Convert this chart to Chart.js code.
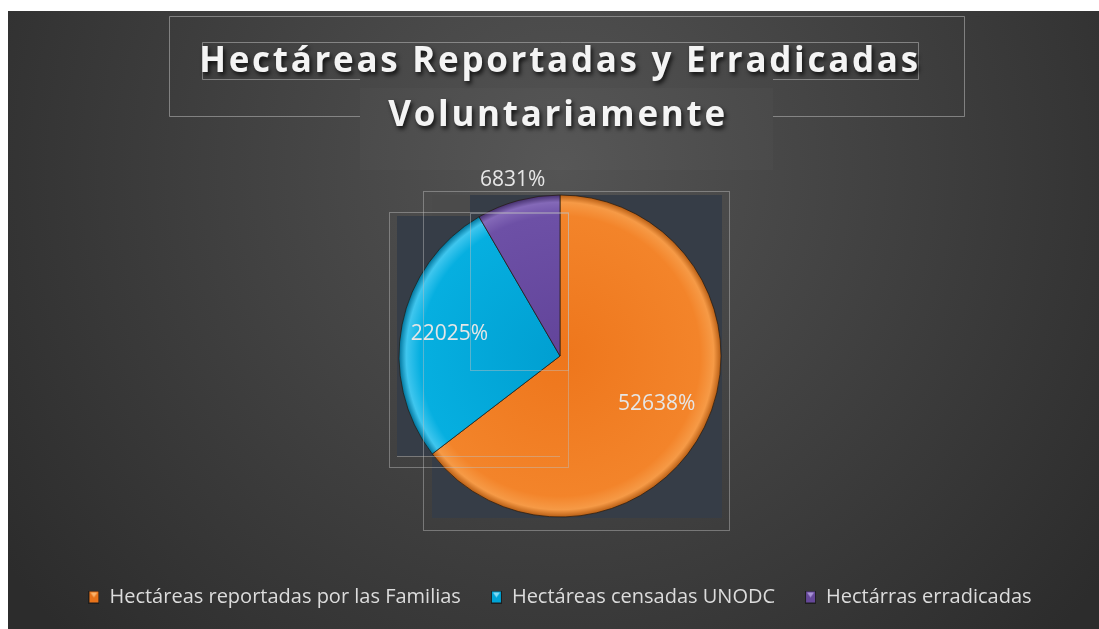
<!DOCTYPE html>
<html>
<head>
<meta charset="utf-8">
<script src="https://cdn.jsdelivr.net/npm/chart.js@4"></script>
<style>
  html, body { margin: 0; padding: 0; background: #fff; overflow: hidden; }
  #wrap { width: 1099px; height: 629px; overflow: hidden; }
</style>
</head>
<body>
<div id="wrap"><canvas id="pie-chart" width="1099" height="629"></canvas></div>
<script>
// data
var categories = ["Hectáreas reportadas por las Familias", "Hectáreas censadas UNODC", "Hectárras erradicadas"];
var hectareas = [52638, 22025, 6831];
var titleLines = ["Hectáreas Reportadas y Erradicadas", "Voluntariamente"];

var baseColors = ["#f17a20", "#00a6d8", "#674a9c"];
// gradient stops per slice: centre, body, bevel, rim
var shades = [
    ["#ee761c", "#f3842a", "#f69a46", "#b85e14"],
    ["#009fd1", "#06afe0", "#3fc6ee", "#00749c"],
    ["#62449a", "#6d50a6", "#8469b8", "#45306e"]
];
var labelDist = [0.67, 0.7, 1.13];
var RADIUS = 161;

function sliceFill(ctx) {
    var chart = ctx.chart;
    var a = chart.chartArea;
    var i = ctx.dataIndex;
    if (!a || i === undefined) return baseColors[i || 0];
    var cx = (a.left + a.right) / 2, cy = (a.top + a.bottom) / 2;
    var g = chart.ctx.createRadialGradient(cx, cy, 0, cx, cy, RADIUS);
    g.addColorStop(0, shades[i][0]);
    g.addColorStop(0.87, shades[i][1]);
    g.addColorStop(0.955, shades[i][2]);
    g.addColorStop(1, shades[i][3]);
    return g;
}

// small legend marker with the little triangle
function marker(color, light) {
    var c = document.createElement("canvas");
    c.width = 11; c.height = 13;
    var x = c.getContext("2d");
    x.fillStyle = "#1e1e1e";
    x.fillRect(0, 0, 11, 13);
    x.fillStyle = color;
    x.fillRect(1, 1, 9, 11);
    x.fillStyle = light;
    x.beginPath();
    x.moveTo(2, 2); x.lineTo(9, 2); x.lineTo(5.5, 7);
    x.closePath();
    x.fill();
    return c;
}
var markers = [marker("#e8731a", "#fbb36a"), marker("#00a4d6", "#7fdaf5"), marker("#66489a", "#a892d6")];

var decor = {
    id: "decor",
    beforeDraw: function(chart) {
        var c = chart.ctx;
        c.save();
        c.fillStyle = "#ffffff";
        c.fillRect(0, 0, chart.width, chart.height);
        var g = c.createRadialGradient(560, 170, 0, 560, 170, 680);
        g.addColorStop(0, "#545454");
        g.addColorStop(1, "#2c2c2c");
        c.fillStyle = g;
        c.fillRect(8, 11, 1091, 625);
        // lighter box behind second title line
        c.fillStyle = "rgba(255,255,255,0.02)";
        c.fillRect(360, 88, 413, 82);
        // title frames
        c.strokeStyle = "rgba(175,175,175,0.6)";
        c.lineWidth = 1;
        c.beginPath();
        c.moveTo(169.5, 116.5); c.lineTo(169.5, 16.5); c.lineTo(964.5, 16.5); c.lineTo(964.5, 116.5); c.lineTo(773, 116.5);
        c.moveTo(360, 116.5); c.lineTo(169.5, 116.5);
        c.moveTo(202.5, 79.5); c.lineTo(202.5, 42.5); c.lineTo(918.5, 42.5); c.lineTo(918.5, 79.5); c.lineTo(773, 79.5);
        c.moveTo(360, 79.5); c.lineTo(202.5, 79.5);
        c.stroke();
        c.restore();
    },
    beforeDatasetsDraw: function(chart) {
        var c = chart.ctx;
        c.save();
        c.fillStyle = "#363d47";
        c.fillRect(432, 195, 290, 323);
        c.fillRect(397, 216, 163, 240);
        c.fillStyle = "#4b4b4b";
        c.fillRect(432, 195, 38, 21);
        c.restore();
    },
    afterDatasetsDraw: function(chart) {
        var c = chart.ctx;
        c.save();
        c.strokeStyle = "rgba(190,190,190,0.45)";
        c.lineWidth = 1;
        c.strokeRect(423.5, 191.5, 306, 339);
        c.strokeRect(389.5, 212.5, 179, 255);
        c.strokeRect(470.5, 213.5, 98, 157);
        c.beginPath();
        c.moveTo(397, 456.5); c.lineTo(560, 456.5);
        c.stroke();
        c.restore();

        // value labels
        var meta = chart.getDatasetMeta(0);
        c.save();
        c.font = "21px 'Open Sans'";
        c.fillStyle = "#e6e6e6";
        c.textAlign = "center";
        c.textBaseline = "middle";
        meta.data.forEach(function(arc, i) {
            var mid = (arc.startAngle + arc.endAngle) / 2;
            var r = arc.outerRadius * labelDist[i];
            c.fillText(hectareas[i] + "%", arc.x + Math.cos(mid) * r, arc.y + Math.sin(mid) * r);
        });
        c.restore();

        // title
        c.save();
        c.font = "bold 35px 'Open Sans'";
        c.letterSpacing = "2.7px";
        c.fillStyle = "#f4f4f4";
        c.textAlign = "center";
        c.textBaseline = "alphabetic";
        c.shadowColor = "rgba(0,0,0,0.75)";
        c.shadowOffsetX = 2;
        c.shadowOffsetY = 3;
        c.shadowBlur = 4;
        c.fillText(titleLines[0], 560, 72);
        c.fillText(titleLines[1], 558, 126);
        c.restore();
    }
};

var ctx1 = document.getElementById("pie-chart");
var chart1 = new Chart(ctx1, {
    type: "pie",
    data: {
        labels: categories,
        datasets: [{
            data: hectareas,
            backgroundColor: sliceFill,
            borderColor: "rgba(35,25,15,0.7)",
            borderWidth: 1,
            radius: RADIUS
        }]
    },
    options: {
        responsive: false,
        animation: false,
        layout: { padding: { left: 29, right: 8, top: 155, bottom: 12 } },
        plugins: {
            title: { display: false },
            tooltip: { enabled: false },
            legend: {
                display: true,
                position: "bottom",
                labels: {
                    usePointStyle: true,
                    boxWidth: 11,
                    boxHeight: 13,
                    padding: 30,
                    color: "#dcdcdc",
                    font: { family: "'Open Sans'", size: 20 },
                    generateLabels: function(chart) {
                        return categories.map(function(t, i) {
                            return { text: t, fillStyle: baseColors[i], strokeStyle: baseColors[i], pointStyle: markers[i], fontColor: "#dcdcdc", hidden: false, index: i, lineWidth: 0 };
                        });
                    }
                }
            }
        }
    },
    plugins: [decor]
});
</script>
</body>
</html>
